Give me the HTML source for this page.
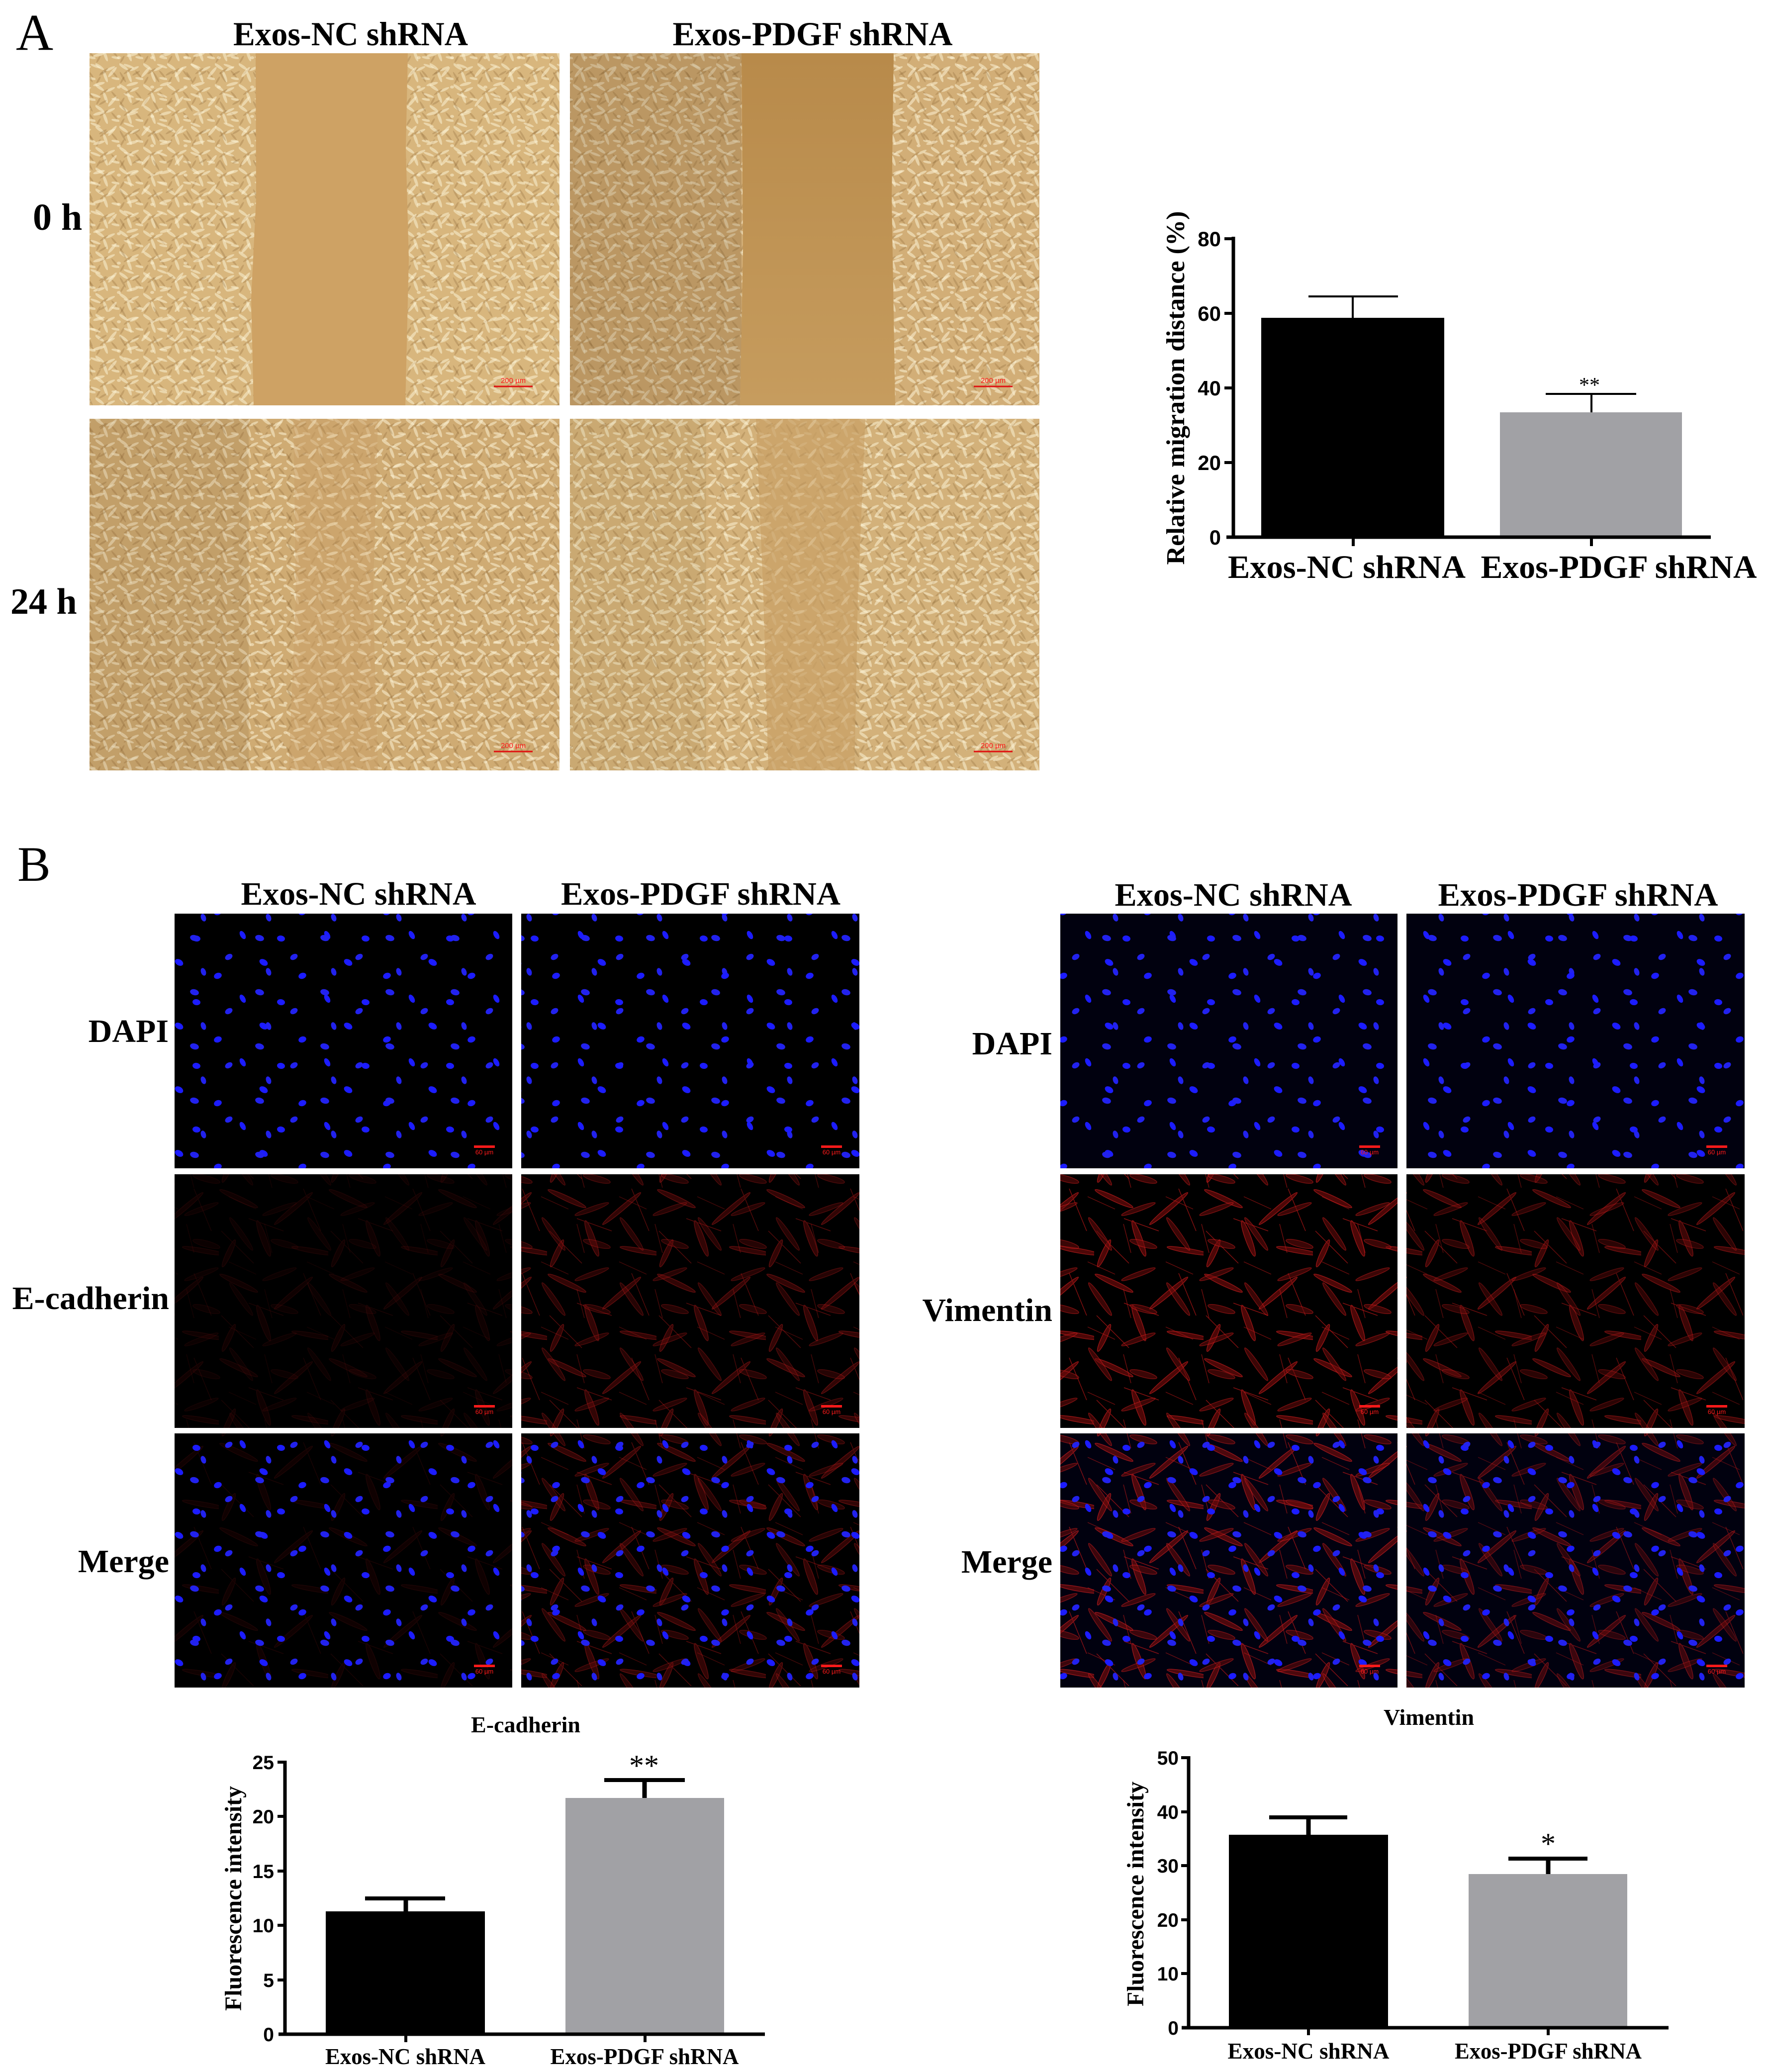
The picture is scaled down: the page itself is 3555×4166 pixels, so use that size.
<!DOCTYPE html>
<html><head><meta charset="utf-8">
<style>
html,body{margin:0;padding:0;background:#fff;width:3555px;height:4166px;overflow:hidden;}
svg{display:block;}
.sb{font-family:"Liberation Serif",serif;font-weight:bold;fill:#000;}
.sr{font-family:"Liberation Serif",serif;font-weight:normal;fill:#000;}
.ss{font-family:"Liberation Sans",sans-serif;font-weight:bold;fill:#000;}
.sc{font-family:"Liberation Sans",sans-serif;fill:#ff1a1a;}
</style></head><body>
<svg width="3555" height="4166" viewBox="0 0 3555 4166">
<defs>
<pattern id="pc" width="48" height="42" patternUnits="userSpaceOnUse">
 <g fill="#f7ebc9" opacity=".6">
  <ellipse cx="8" cy="8" rx="11" ry="3" transform="rotate(35 8 8)"/>
  <ellipse cx="30" cy="12" rx="10" ry="2.6" transform="rotate(-25 30 12)"/>
  <ellipse cx="20" cy="28" rx="12" ry="3" transform="rotate(70 20 28)"/>
  <ellipse cx="41" cy="32" rx="9" ry="2.5" transform="rotate(10 41 32)"/>
 </g>
 <g fill="#8a6432" opacity=".28">
  <ellipse cx="17" cy="17" rx="10" ry="2" transform="rotate(-35 17 17)"/>
  <ellipse cx="38" cy="23" rx="9" ry="2" transform="rotate(50 38 23)"/>
  <ellipse cx="6" cy="35" rx="8" ry="2" transform="rotate(-60 6 35)"/>
 </g>
</pattern>
<pattern id="pc2" width="67" height="59" patternUnits="userSpaceOnUse" x="13" y="7">
 <g fill="#fbf0d2" opacity=".55">
  <ellipse cx="12" cy="20" rx="13" ry="3" transform="rotate(-50 12 20)"/>
  <ellipse cx="45" cy="8" rx="11" ry="2.5" transform="rotate(20 45 8)"/>
  <ellipse cx="52" cy="44" rx="12" ry="3" transform="rotate(-15 52 44)"/>
  <ellipse cx="25" cy="50" rx="4" ry="3"/>
 </g>
 <g fill="#7d5a2a" opacity=".25">
  <ellipse cx="33" cy="30" rx="12" ry="2" transform="rotate(60 33 30)"/>
  <ellipse cx="60" cy="22" rx="9" ry="2" transform="rotate(-30 60 22)"/>
 </g>
</pattern>
<pattern id="n1" width="170" height="128" patternUnits="userSpaceOnUse">
 <g fill="#1c1cff">
  <ellipse cx="20" cy="15" rx="9" ry="6" transform="rotate(30 20 15)"/>
  <ellipse cx="98" cy="42" rx="8" ry="6" transform="rotate(-20 98 42)"/>
  <ellipse cx="148" cy="88" rx="9" ry="5" transform="rotate(60 148 88)"/>
  <ellipse cx="55" cy="95" rx="8" ry="6" transform="rotate(10 55 95)"/>
 </g>
</pattern>
<pattern id="n2" width="131" height="109" patternUnits="userSpaceOnUse" x="37" y="21">
 <g fill="#2222ee">
  <ellipse cx="30" cy="50" rx="8" ry="5.5" transform="rotate(-30 30 50)"/>
  <ellipse cx="92" cy="12" rx="9" ry="6" transform="rotate(15 92 12)"/>
  <ellipse cx="110" cy="80" rx="8" ry="5" transform="rotate(70 110 80)"/>
 </g>
</pattern>
<pattern id="r1" width="220" height="170" patternUnits="userSpaceOnUse">
 <g fill="#7a0c0c" stroke="#e82020" stroke-width="1.5">
  <ellipse cx="40" cy="30" rx="42" ry="5" transform="rotate(25 40 30)"/>
  <ellipse cx="150" cy="50" rx="50" ry="4.5" transform="rotate(-40 150 50)"/>
  <ellipse cx="90" cy="110" rx="38" ry="6" transform="rotate(70 90 110)"/>
  <ellipse cx="190" cy="135" rx="44" ry="4.5" transform="rotate(10 190 135)"/>
  <ellipse cx="20" cy="140" rx="30" ry="5" transform="rotate(-65 20 140)"/>
 </g>
 <g stroke="#d01818" stroke-width="1.5" fill="none">
  <path d="M60 70 L130 95"/><path d="M170 10 L205 95"/><path d="M5 95 L70 160"/>
 </g>
</pattern>
<pattern id="r2" width="157" height="131" patternUnits="userSpaceOnUse" x="51" y="33">
 <g fill="#6a0a0a" stroke="#d81c1c" stroke-width="1.5">
  <ellipse cx="40" cy="40" rx="36" ry="4.5" transform="rotate(-20 40 40)"/>
  <ellipse cx="120" cy="90" rx="40" ry="5" transform="rotate(55 120 90)"/>
  <ellipse cx="50" cy="110" rx="28" ry="6" transform="rotate(15 50 110)"/>
 </g>
 <g stroke="#c01616" stroke-width="1.5" fill="none">
  <path d="M95 15 L150 40"/><path d="M10 70 L25 128"/>
 </g>
</pattern>
<linearGradient id="gA2" x1="0" y1="0" x2="0" y2="1">
 <stop offset="0" stop-color="#b88a4a"/><stop offset="1" stop-color="#c69c5e"/>
</linearGradient>
</defs>

<rect x="0" y="0" width="3555" height="4166" fill="#fff"/>

<!-- ===== Panel A ===== -->
<text class="sr" x="32" y="100" font-size="104">A</text>
<text class="sb" x="705" y="91" font-size="68" text-anchor="middle" textLength="472" lengthAdjust="spacingAndGlyphs">Exos-NC shRNA</text>
<text class="sb" x="1634" y="91" font-size="68" text-anchor="middle" textLength="563" lengthAdjust="spacingAndGlyphs">Exos-PDGF shRNA</text>
<text class="sb" x="66" y="462" font-size="76">0 h</text>
<text class="sb" x="21" y="1234" font-size="74">24 h</text>

<!-- A1 0h NC -->
<rect x="180" y="107" width="945" height="708" fill="#d8b67d"/>
<rect x="180" y="107" width="945" height="708" fill="url(#pc)"/>
<rect x="180" y="107" width="945" height="708" fill="url(#pc2)"/>
<path d="M514,107 L820,107 L816,300 L822,520 L815,815 L510,815 L505,600 L515,400 Z" fill="#cea264"/>
<line x1="993" y1="777" x2="1071" y2="777" stroke="#e01010" stroke-width="3"/>
<text class="sc" x="1032" y="770" font-size="15" text-anchor="middle">200 µm</text>

<!-- A2 0h PDGF -->
<rect x="1146" y="107" width="944" height="708" fill="#d2ae77"/>
<rect x="1146" y="107" width="944" height="708" fill="url(#pc)"/>
<rect x="1146" y="107" width="944" height="708" fill="url(#pc2)"/>
<rect x="1146" y="107" width="345" height="708" fill="#6b4a1e" opacity=".22"/>
<path d="M1491,107 L1797,107 L1793,400 L1800,815 L1488,815 L1494,500 Z" fill="url(#gA2)"/>
<line x1="1958" y1="777" x2="2036" y2="777" stroke="#e01010" stroke-width="3"/>
<text class="sc" x="1997" y="770" font-size="15" text-anchor="middle">200 µm</text>

<!-- A3 24h NC -->
<rect x="180" y="842" width="945" height="707" fill="#cfab73"/>
<rect x="180" y="842" width="945" height="707" fill="url(#pc)"/>
<rect x="180" y="842" width="945" height="707" fill="url(#pc2)"/>
<rect x="180" y="842" width="320" height="707" fill="#6b4a1e" opacity=".12"/>
<path d="M590,842 L760,842 L750,1200 L760,1549 L580,1549 L595,1200 Z" fill="#caa068" opacity=".55"/>
<rect x="580" y="842" width="180" height="707" fill="url(#pc2)" opacity=".5"/>
<line x1="993" y1="1511" x2="1071" y2="1511" stroke="#e01010" stroke-width="3"/>
<text class="sc" x="1032" y="1504" font-size="15" text-anchor="middle">200 µm</text>

<!-- A4 24h PDGF -->
<rect x="1146" y="842" width="944" height="707" fill="#d3b17a"/>
<rect x="1146" y="842" width="944" height="707" fill="url(#pc)"/>
<rect x="1146" y="842" width="944" height="707" fill="url(#pc2)"/>
<rect x="1146" y="842" width="274" height="707" fill="#6b4a1e" opacity=".08"/>
<path d="M1520,842 L1740,842 L1725,1200 L1718,1549 L1545,1549 L1535,1200 Z" fill="#c9a167" opacity=".75"/>
<rect x="1520" y="842" width="220" height="707" fill="url(#pc2)" opacity=".3"/>
<line x1="1958" y1="1511" x2="2036" y2="1511" stroke="#e01010" stroke-width="3"/>
<text class="sc" x="1997" y="1504" font-size="15" text-anchor="middle">200 µm</text>

<!-- Chart A -->
<g>
 <rect x="2536" y="639" width="368" height="441" fill="#000"/>
 <rect x="3016" y="829" width="366" height="251" fill="#a1a1a5"/>
 <line x1="2720" y1="639" x2="2720" y2="596" stroke="#000" stroke-width="4"/>
 <line x1="2631" y1="596" x2="2811" y2="596" stroke="#000" stroke-width="4"/>
 <line x1="3200" y1="829" x2="3200" y2="792" stroke="#000" stroke-width="4"/>
 <line x1="3108" y1="792" x2="3290" y2="792" stroke="#000" stroke-width="4"/>
 <text class="sr" x="3196" y="788" font-size="42" text-anchor="middle">**</text>
 <line x1="2480" y1="476" x2="2480" y2="1083" stroke="#000" stroke-width="7"/>
 <line x1="2466" y1="1080" x2="3440" y2="1080" stroke="#000" stroke-width="7"/>
 <g stroke="#000" stroke-width="6">
  <line x1="2462" y1="480" x2="2480" y2="480"/>
  <line x1="2462" y1="630" x2="2480" y2="630"/>
  <line x1="2462" y1="780" x2="2480" y2="780"/>
  <line x1="2462" y1="930" x2="2480" y2="930"/>
  <line x1="2721" y1="1080" x2="2721" y2="1098"/>
  <line x1="3200" y1="1080" x2="3200" y2="1098"/>
 </g>
 <g class="ss" font-size="42" text-anchor="end">
  <text x="2455" y="495">80</text>
  <text x="2455" y="645">60</text>
  <text x="2455" y="795">40</text>
  <text x="2455" y="945">20</text>
  <text x="2455" y="1095">0</text>
 </g>
 <text class="sb" x="2708" y="1162" font-size="66" text-anchor="middle" textLength="478" lengthAdjust="spacingAndGlyphs">Exos-NC shRNA</text>
 <text class="sb" x="3255" y="1162" font-size="66" text-anchor="middle" textLength="555" lengthAdjust="spacingAndGlyphs">Exos-PDGF shRNA</text>
 <text class="sb" transform="translate(2381,780) rotate(-90)" font-size="52" text-anchor="middle" textLength="711" lengthAdjust="spacingAndGlyphs">Relative migration distance (%)</text>
</g>

<!-- ===== Panel B ===== -->
<text class="sr" x="35" y="1771" font-size="100">B</text>
<text class="sb" x="721" y="1819" font-size="66" text-anchor="middle" textLength="473" lengthAdjust="spacingAndGlyphs">Exos-NC shRNA</text>
<text class="sb" x="1409" y="1819" font-size="66" text-anchor="middle" textLength="562" lengthAdjust="spacingAndGlyphs">Exos-PDGF shRNA</text>
<text class="sb" x="2480" y="1821" font-size="66" text-anchor="middle" textLength="477" lengthAdjust="spacingAndGlyphs">Exos-NC shRNA</text>
<text class="sb" x="3173" y="1821" font-size="66" text-anchor="middle" textLength="563" lengthAdjust="spacingAndGlyphs">Exos-PDGF shRNA</text>

<g class="sb" font-size="66" text-anchor="end">
 <text x="339" y="2095">DAPI</text>
 <text x="340" y="2632">E-cadherin</text>
 <text x="340" y="3161">Merge</text>
 <text x="2116" y="2120">DAPI</text>
 <text x="2116" y="2656">Vimentin</text>
 <text x="2116" y="3162">Merge</text>
</g>

<!-- Left group panels -->
<rect x="351" y="1837" width="679" height="512" fill="#000"/>
<rect x="351" y="1837" width="679" height="512" fill="url(#n1)"/>
<rect x="351" y="1837" width="679" height="512" fill="url(#n2)"/>
<rect x="1048" y="1837" width="680" height="512" fill="#000"/>
<rect x="1048" y="1837" width="680" height="512" fill="url(#n2)"/>
<rect x="1048" y="1837" width="680" height="512" fill="url(#n1)"/>

<rect x="351" y="2361" width="679" height="510" fill="#000"/>
<rect x="351" y="2361" width="679" height="510" fill="url(#r1)" opacity=".12"/>
<rect x="351" y="2361" width="679" height="510" fill="url(#r2)" opacity=".1"/>
<rect x="1048" y="2361" width="680" height="510" fill="#000"/>
<rect x="1048" y="2361" width="680" height="510" fill="url(#r1)" opacity=".4"/>
<rect x="1048" y="2361" width="680" height="510" fill="url(#r2)" opacity=".35"/>

<rect x="351" y="2882" width="679" height="511" fill="#000"/>
<rect x="351" y="2882" width="679" height="511" fill="url(#r1)" opacity=".12"/>
<rect x="351" y="2882" width="679" height="511" fill="url(#n1)"/>
<rect x="351" y="2882" width="679" height="511" fill="url(#n2)"/>
<rect x="1048" y="2882" width="680" height="511" fill="#000"/>
<rect x="1048" y="2882" width="680" height="511" fill="url(#r1)" opacity=".4"/>
<rect x="1048" y="2882" width="680" height="511" fill="url(#r2)" opacity=".35"/>
<rect x="1048" y="2882" width="680" height="511" fill="url(#n1)"/>
<rect x="1048" y="2882" width="680" height="511" fill="url(#n2)"/>

<!-- Right group panels -->
<rect x="2132" y="1837" width="678" height="512" fill="#01010f"/>
<rect x="2132" y="1837" width="678" height="512" fill="url(#n1)"/>
<rect x="2132" y="1837" width="678" height="512" fill="url(#n2)"/>
<rect x="2828" y="1837" width="680" height="512" fill="#01010f"/>
<rect x="2828" y="1837" width="680" height="512" fill="url(#n2)"/>
<rect x="2828" y="1837" width="680" height="512" fill="url(#n1)"/>
<rect x="2132" y="2361" width="678" height="510" fill="#000"/>
<rect x="2132" y="2361" width="678" height="510" fill="url(#r1)" opacity=".62"/>
<rect x="2132" y="2361" width="678" height="510" fill="url(#r2)" opacity=".55"/>
<rect x="2828" y="2361" width="680" height="510" fill="#000"/>
<rect x="2828" y="2361" width="680" height="510" fill="url(#r1)" opacity=".48"/>
<rect x="2828" y="2361" width="680" height="510" fill="url(#r2)" opacity=".4"/>
<rect x="2132" y="2882" width="678" height="511" fill="#01010f"/>
<rect x="2132" y="2882" width="678" height="511" fill="url(#r1)" opacity=".62"/>
<rect x="2132" y="2882" width="678" height="511" fill="url(#r2)" opacity=".55"/>
<rect x="2132" y="2882" width="678" height="511" fill="url(#n1)"/>
<rect x="2132" y="2882" width="678" height="511" fill="url(#n2)"/>
<rect x="2828" y="2882" width="680" height="511" fill="#01010f"/>
<rect x="2828" y="2882" width="680" height="511" fill="url(#r1)" opacity=".48"/>
<rect x="2828" y="2882" width="680" height="511" fill="url(#r2)" opacity=".4"/>
<rect x="2828" y="2882" width="680" height="511" fill="url(#n1)"/>
<rect x="2828" y="2882" width="680" height="511" fill="url(#n2)"/>

<!-- scale bars fluorescence -->
<g fill="#ff1a1a">
 <rect x="953" y="2303" width="42" height="5"/><rect x="1651" y="2303" width="42" height="5"/>
 <rect x="953" y="2825" width="42" height="5"/><rect x="1651" y="2825" width="42" height="5"/>
 <rect x="953" y="3347" width="42" height="5"/><rect x="1651" y="3347" width="42" height="5"/>
 <rect x="2733" y="2303" width="42" height="5"/><rect x="3431" y="2303" width="42" height="5"/>
 <rect x="2733" y="2825" width="42" height="5"/><rect x="3431" y="2825" width="42" height="5"/>
 <rect x="2733" y="3347" width="42" height="5"/><rect x="3431" y="3347" width="42" height="5"/>
</g>
<g class="sc" font-size="13" text-anchor="middle">
 <text x="974" y="2321">60 µm</text><text x="1672" y="2321">60 µm</text>
 <text x="974" y="2843">60 µm</text><text x="1672" y="2843">60 µm</text>
 <text x="974" y="3365">60 µm</text><text x="1672" y="3365">60 µm</text>
 <text x="2754" y="2321">60 µm</text><text x="3452" y="2321">60 µm</text>
 <text x="2754" y="2843">60 µm</text><text x="3452" y="2843">60 µm</text>
 <text x="2754" y="3365">60 µm</text><text x="3452" y="3365">60 µm</text>
</g>

<!-- ===== E-cadherin chart ===== -->
<g>
 <text class="sb" x="1057" y="3483" font-size="45" text-anchor="middle" textLength="220" lengthAdjust="spacingAndGlyphs">E-cadherin</text>
 <rect x="655" y="3843" width="320" height="247" fill="#000"/>
 <rect x="1137" y="3615" width="319" height="475" fill="#a1a1a5"/>
 <line x1="816" y1="3843" x2="816" y2="3817" stroke="#000" stroke-width="9"/>
 <line x1="734" y1="3817" x2="895" y2="3817" stroke="#000" stroke-width="8"/>
 <line x1="1296" y1="3615" x2="1296" y2="3579" stroke="#000" stroke-width="9"/>
 <line x1="1215" y1="3579" x2="1377" y2="3579" stroke="#000" stroke-width="8"/>
 <text class="sr" x="1295" y="3570" font-size="60" text-anchor="middle">**</text>
 <line x1="573" y1="3540" x2="573" y2="4093" stroke="#000" stroke-width="7"/>
 <line x1="560" y1="4090" x2="1538" y2="4090" stroke="#000" stroke-width="7"/>
 <g stroke="#000" stroke-width="6">
  <line x1="558" y1="3543" x2="573" y2="3543"/>
  <line x1="558" y1="3652" x2="573" y2="3652"/>
  <line x1="558" y1="3762" x2="573" y2="3762"/>
  <line x1="558" y1="3871" x2="573" y2="3871"/>
  <line x1="558" y1="3981" x2="573" y2="3981"/>
  <line x1="816" y1="4090" x2="816" y2="4106"/>
  <line x1="1297" y1="4090" x2="1297" y2="4106"/>
 </g>
 <g class="ss" font-size="39" text-anchor="end">
  <text x="551" y="3557">25</text>
  <text x="551" y="3666">20</text>
  <text x="551" y="3776">15</text>
  <text x="551" y="3885">10</text>
  <text x="551" y="3995">5</text>
  <text x="551" y="4104">0</text>
 </g>
 <text class="sb" x="815" y="4150" font-size="46" text-anchor="middle" textLength="322" lengthAdjust="spacingAndGlyphs">Exos-NC shRNA</text>
 <text class="sb" x="1296" y="4150" font-size="46" text-anchor="middle" textLength="379" lengthAdjust="spacingAndGlyphs">Exos-PDGF shRNA</text>
 <text class="sb" transform="translate(485,3817) rotate(-90)" font-size="48" text-anchor="middle" textLength="452" lengthAdjust="spacingAndGlyphs">Fluorescence intensity</text>
</g>

<!-- ===== Vimentin chart ===== -->
<g>
 <text class="sb" x="2873" y="3468" font-size="45" text-anchor="middle" textLength="182" lengthAdjust="spacingAndGlyphs">Vimentin</text>
 <rect x="2471" y="3689" width="320" height="388" fill="#000"/>
 <rect x="2953" y="3768" width="319" height="309" fill="#a1a1a5"/>
 <line x1="2631" y1="3689" x2="2631" y2="3654" stroke="#000" stroke-width="9"/>
 <line x1="2552" y1="3654" x2="2709" y2="3654" stroke="#000" stroke-width="8"/>
 <line x1="3113" y1="3768" x2="3113" y2="3737" stroke="#000" stroke-width="9"/>
 <line x1="3033" y1="3737" x2="3192" y2="3737" stroke="#000" stroke-width="8"/>
 <text class="sr" x="3113" y="3727" font-size="60" text-anchor="middle">*</text>
 <line x1="2390" y1="3531" x2="2390" y2="4080" stroke="#000" stroke-width="7"/>
 <line x1="2376" y1="4077" x2="3355" y2="4077" stroke="#000" stroke-width="7"/>
 <g stroke="#000" stroke-width="6">
  <line x1="2375" y1="3534" x2="2390" y2="3534"/>
  <line x1="2375" y1="3643" x2="2390" y2="3643"/>
  <line x1="2375" y1="3751" x2="2390" y2="3751"/>
  <line x1="2375" y1="3860" x2="2390" y2="3860"/>
  <line x1="2375" y1="3968" x2="2390" y2="3968"/>
  <line x1="2631" y1="4077" x2="2631" y2="4092"/>
  <line x1="3113" y1="4077" x2="3113" y2="4092"/>
 </g>
 <g class="ss" font-size="39" text-anchor="end">
  <text x="2370" y="3548">50</text>
  <text x="2370" y="3657">40</text>
  <text x="2370" y="3765">30</text>
  <text x="2370" y="3874">20</text>
  <text x="2370" y="3982">10</text>
  <text x="2370" y="4091">0</text>
 </g>
 <text class="sb" x="2631" y="4139" font-size="46" text-anchor="middle" textLength="325" lengthAdjust="spacingAndGlyphs">Exos-NC shRNA</text>
 <text class="sb" x="3113" y="4139" font-size="46" text-anchor="middle" textLength="376" lengthAdjust="spacingAndGlyphs">Exos-PDGF shRNA</text>
 <text class="sb" transform="translate(2299,3808) rotate(-90)" font-size="48" text-anchor="middle" textLength="452" lengthAdjust="spacingAndGlyphs">Fluorescence intensity</text>
</g>
</svg>
</body></html>
